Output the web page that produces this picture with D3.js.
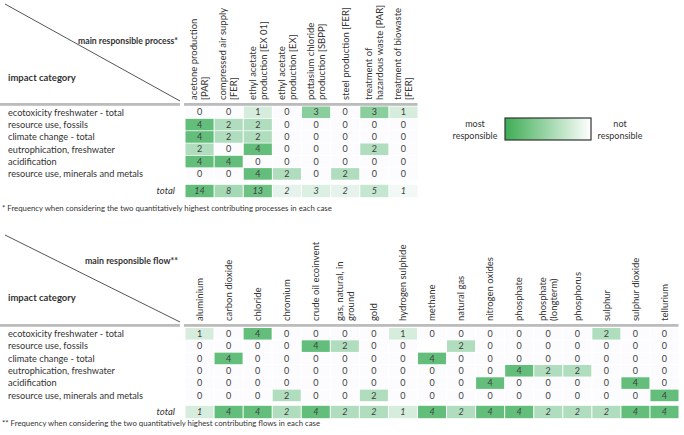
<!DOCTYPE html>
<html><head><meta charset="utf-8">
<script src="https://cdn.jsdelivr.net/npm/d3@7/dist/d3.min.js"></script>
<style>
body{margin:0;background:#fff;}
text{font-family:Lato,"Open Sans",sans-serif;}
</style></head>
<body><svg id="chart" width="684" height="435"></svg>
<script>
const categories = ["ecotoxicity freshwater - total","resource use, fossils","climate change - total","eutrophication, freshwater","acidification","resource use, minerals and metals"];

const processes = [["acetone production","[PAR]"],["compressed air supply","[FER]"],["ethyl acetate","production [EX 01]"],["ethyl acetate","production [EX]"],["pottasium chloride","production [SBPP]"],["steel production [FER]"],["treatment of","hazardous waste [PAR]"],["treatment of biowaste","[FER]"]];
const processValues = [
  [0,0,1,0,3,0,3,1],
  [4,2,2,0,0,0,0,0],
  [4,2,2,0,0,0,0,0],
  [2,0,4,0,0,0,2,0],
  [4,4,0,0,0,0,0,0],
  [0,0,4,2,0,2,0,0]
];
const processTotals = [14,8,13,2,3,2,5,1];

const flows = [["aluminium"],["carbon dioxide"],["chloride"],["chromium"],["crude oil ecoinvent"],["gas, natural, in","ground"],["gold"],["hydrogen sulphide"],["methane"],["natural gas"],["nitrogen oxides"],["phosphate"],["phosphate","(longterm)"],["phosphorus"],["sulphur"],["sulphur dioxide"],["tellurium"]];
const flowValues = [
  [1,0,4,0,0,0,0,1,0,0,0,0,0,0,2,0,0],
  [0,0,0,0,4,2,0,0,null,2,0,0,0,0,0,0,0],
  [0,4,0,0,0,0,0,0,4,0,0,0,0,0,0,0,0],
  [0,0,0,0,0,0,0,0,0,0,0,4,2,2,0,0,0],
  [0,0,0,0,0,0,0,0,0,0,4,0,0,0,0,4,0],
  [0,0,0,2,0,0,2,0,0,0,0,0,0,0,0,0,4]
];
const flowTotals = [1,4,4,2,4,2,2,1,4,2,4,4,2,2,2,4,4];

const svg = d3.select("#chart");
const LOW = "#FCFCFF", HIGH = "#63BE7B";

function table(o){
  const g = svg.append("g");
  const colW = 29, x0 = 185.5;
  const keys = o.cols.map((c,i)=>i);
  const x = d3.scaleBand().domain(keys).range([x0, x0 + keys.length*colW]).paddingInner(0.035);
  const rowStep = 12.2;
  const y = d3.scaleBand().domain(categories).range([o.bodyTop, o.bodyTop + categories.length*rowStep]).paddingInner(0.06);
  const maxBody = d3.max(o.values.flat());
  const cBody = d3.scaleLinear().domain([0, maxBody]).range([LOW, HIGH]);
  const cTot = d3.scaleLinear().domain([0, d3.max(o.totals)]).range([LOW, HIGH]);
  const xEnd = x0 + keys.length*colW;

  // diagonal
  g.append("line").attr("x1",5).attr("y1",o.diagTop).attr("x2",180).attr("y2",o.lineY-3)
    .attr("stroke","#555").attr("stroke-width",1);
  g.append("text").attr("x",178).attr("y",o.titleY).attr("text-anchor","end")
    .attr("textLength",o.titleLen).attr("lengthAdjust","spacingAndGlyphs")
    .attr("font-size","9.5px").attr("font-weight","bold").attr("fill","#333").text(o.title);
  g.append("text").attr("x",8).attr("y",o.impactY)
    .attr("font-size","9.5px").attr("font-weight","bold").attr("fill","#333").text("impact category");
  // header rule
  [[0,180],[184,xEnd]].forEach(([a,b])=>{
    g.append("line").attr("x1",a).attr("x2",b).attr("y1",o.lineY).attr("y2",o.lineY)
      .attr("stroke","#7a7a7a").attr("stroke-width",1.2);
    g.append("line").attr("x1",a).attr("x2",b).attr("y1",o.lineY+1.5).attr("y2",o.lineY+1.5)
      .attr("stroke","#c8c8c8").attr("stroke-width",1);
  });
  // column headers
  o.cols.forEach((lines,i)=>{
    const cx = x(i) + x.bandwidth()/2;
    const t = g.append("text").attr("transform",`translate(${cx},${o.headBottom}) rotate(-90)`)
      .attr("font-size","9.5px").attr("fill","#333");
    lines.forEach((s,j)=>{
      t.append("tspan").attr("x",0).attr("y",(j-(lines.length-1)/2)*11 + 3.3).text(s);
    });
  });
  // row labels
  g.selectAll(".rl").data(categories).join("text")
    .attr("x",8).attr("y",d=>y(d)+y.bandwidth()/2+3.3)
    .attr("font-size","9.2px").attr("fill","#333").text(d=>d);
  // body cells
  o.values.forEach((row,r)=>{
    const cat = categories[r];
    row.forEach((v,c)=>{
      g.append("rect").attr("x",x(c)).attr("y",y(cat)).attr("width",x.bandwidth()).attr("height",y.bandwidth())
        .attr("fill", v==null ? "#fff" : cBody(v));
      if(v!=null) g.append("text").attr("x",x(c)+x.bandwidth()/2).attr("y",y(cat)+y.bandwidth()/2+3.2)
        .attr("text-anchor","middle").attr("font-size","9px").attr("fill","#404040").text(v);
    });
  });
  // totals
  const tTop = o.totalCenter - 6.2, tH = 12.4;
  g.append("text").attr("x",175).attr("y",o.totalCenter+3.2).attr("text-anchor","end")
    .attr("font-size","9.5px").attr("font-style","italic").attr("fill","#333").text("total");
  o.totals.forEach((v,c)=>{
    g.append("rect").attr("x",x(c)).attr("y",tTop).attr("width",x.bandwidth()).attr("height",tH).attr("fill",cTot(v));
    g.append("text").attr("x",x(c)+x.bandwidth()/2).attr("y",o.totalCenter+3.2).attr("text-anchor","middle")
      .attr("font-size","9px").attr("font-style","italic").attr("fill","#404040").text(v);
  });
  g.append("text").attr("x",2).attr("y",o.footY).attr("font-size","7.8px").attr("fill","#333").text(o.foot);
}

table({cols:processes, values:processValues, totals:processTotals,
  title:"main responsible process*", titleLen:100, diagTop:4, lineY:104, titleY:44, impactY:81, headBottom:100,
  bodyTop:106.5, totalCenter:191, footY:211,
  foot:"* Frequency when considering the two quantitatively highest contributing processes in each case"});

table({cols:flows, values:flowValues, totals:flowTotals,
  title:"main responsible flow**", titleLen:93, diagTop:235, lineY:325, titleY:264, impactY:301, headBottom:321,
  bodyTop:328, totalCenter:412, footY:426,
  foot:"** Frequency when considering the two quantitatively highest contributing flows in each case"});

// legend
const defs = svg.append("defs");
const grad = defs.append("linearGradient").attr("id","lg");
grad.append("stop").attr("offset","0%").attr("stop-color","#3DAD55");
grad.append("stop").attr("offset","100%").attr("stop-color","#ffffff");
const lg = svg.append("g");
lg.append("rect").attr("x",505).attr("y",118).attr("width",86).attr("height",22)
  .attr("fill","url(#lg)").attr("stroke","#333").attr("stroke-width",1.2);
[["most",475,127],["responsible",475,139],["not",620,127],["responsible",620,139]].forEach(([s,xx,yy])=>{
  lg.append("text").attr("x",xx).attr("y",yy).attr("text-anchor","middle").attr("font-size","9px").attr("fill","#333").text(s);
});
</script></body></html>
